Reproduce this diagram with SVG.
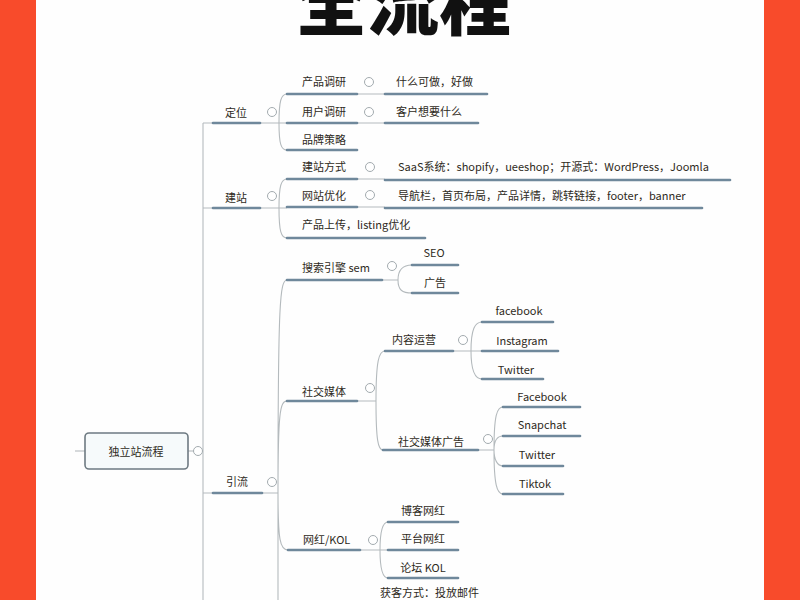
<svg xmlns="http://www.w3.org/2000/svg" width="800" height="600" viewBox="0 0 800 600">
<style>
.t{font-family:"Noto Sans CJK SC","Liberation Sans",sans-serif;font-size:11px;fill:#2e2a22}
.m{text-anchor:middle}
.ul{stroke:#6f889b;stroke-width:2.6;fill:none;stroke-linecap:round}
.cn{stroke:#b4babd;stroke-width:1.1;fill:none}
.cc{fill:#fff;stroke:#a3abaf;stroke-width:1}
</style>
<rect x="0" y="0" width="800" height="600" fill="#fefefe"/>
<rect x="0" y="0" width="36" height="600" fill="#f84b2b"/>
<rect x="764" y="0" width="36" height="600" fill="#f84b2b"/>
<text x="403" y="29" text-anchor="middle" font-family="Noto Sans CJK SC,sans-serif" font-size="72" font-weight="900" fill="#111">全流程</text>

<g id="connectors" class="cn">
<path d="M75 451 H85"/>
<path d="M188 451 H203"/>
<path d="M203 123 V600"/>
<path d="M203 123 H213 M203 208 H213 M203 493 H213"/>
<path d="M260 123 H279 M279 123 C279 101 281 94 287 94 M279 123 H287 M279 123 C279 144 281 150 287 150"/>
<path d="M260 208 H279 M279 208 C279 186 281 179 287 179 M279 208 H287 M279 208 C279 231 281 238 287 238"/>
<path d="M357 94 H385 M357 123 H385 M357 179 H385 M357 207 H385"/>
<path d="M262 493 H278 M278 493 C278 300 280 280 287 280 M278 493 C278 412 280 401 287 401 M278 493 C278 540 280 550 288 550 M278 493 V600"/>
<path d="M382 280 H398 M398 280 C398 270 402 265 412 265 M398 280 C398 290 402 293 412 293"/>
<path d="M357 401 H376 M376 401 C376 360 379 351 385 351 M376 401 C376 440 378 450 383 450"/>
<path d="M453 351 H471 M471 351 C471 329 475 322 482 322 M471 351 H482 M471 351 C471 371 475 379 482 379"/>
<path d="M478 450 H494 M494 450 C494 415 497 407 503 407 M494 450 C494 441 497 436 503 436 M494 450 C494 459 497 466 503 466 M494 450 C494 485 497 494 503 494"/>
<path d="M360 550 H380 M380 550 C380 529 383 522 388 522 M380 550 H388 M380 550 C380 571 383 578 388 578"/>
</g>

<g id="root">
<rect x="85" y="433" width="103" height="36" rx="4" fill="#f6fafb" stroke="#6e7a82" stroke-width="1.6"/>
<text class="t m" x="136" y="456" font-size="13.5">独立站流程</text>
<circle class="cc" cx="198" cy="451" r="4.5"/>
</g>

<g id="dingwei">
<text class="t m" x="236" y="117">定位</text>
<path class="ul" d="M213 123 H260"/>
<circle class="cc" cx="272" cy="112" r="4.5"/>
</g>
<g id="chanpindiaoyan">
<text class="t" x="302" y="86">产品调研</text>
<path class="ul" d="M287 94 H357"/>
<circle class="cc" cx="369" cy="82" r="4.5"/>
</g>
<g id="shenmekezuo">
<text class="t" x="396" y="86">什么可做，好做</text>
<path class="ul" d="M385 94 H487"/>
</g>
<g id="yonghudiaoyan">
<text class="t" x="302" y="116">用户调研</text>
<path class="ul" d="M287 123 H357"/>
<circle class="cc" cx="369" cy="112" r="4.5"/>
</g>
<g id="kehuxiangyao">
<text class="t" x="396" y="116">客户想要什么</text>
<path class="ul" d="M385 123 H478"/>
</g>
<g id="pinpaicelue">
<text class="t" x="302" y="144">品牌策略</text>
<path class="ul" d="M287 150 H357"/>
</g>

<g id="jianzhan">
<text class="t m" x="236" y="202">建站</text>
<path class="ul" d="M213 208 H260"/>
<circle class="cc" cx="272" cy="196" r="4.5"/>
</g>
<g id="jianzhanfangshi">
<text class="t" x="302" y="171">建站方式</text>
<path class="ul" d="M287 179 H357"/>
<circle class="cc" cx="370" cy="167" r="4.5"/>
</g>
<g id="saas">
<text class="t" x="398" y="171">SaaS系统：shopify，ueeshop；开源式：WordPress，Joomla</text>
<path class="ul" d="M385 180 H730"/>
</g>
<g id="wangzhanyouhua">
<text class="t" x="302" y="200">网站优化</text>
<path class="ul" d="M287 207 H357"/>
<circle class="cc" cx="370" cy="195" r="4.5"/>
</g>
<g id="daohanglan">
<text class="t" x="398" y="200">导航栏，首页布局，产品详情，跳转链接，footer，banner</text>
<path class="ul" d="M385 208 H702"/>
</g>
<g id="chanpinshangchuan">
<text class="t" x="302" y="229">产品上传，listing优化</text>
<path class="ul" d="M287 238 H425"/>
</g>

<g id="yinliu">
<text class="t m" x="237" y="486">引流</text>
<path class="ul" d="M213 493 H262"/>
<circle class="cc" cx="272" cy="482" r="4.5"/>
</g>
<g id="sousuoyinqing">
<text class="t" x="302" y="272">搜索引擎 sem</text>
<path class="ul" d="M287 280 H382"/>
<circle class="cc" cx="392" cy="266" r="4.5"/>
</g>
<g id="seo">
<text class="t m" x="434" y="257">SEO</text>
<path class="ul" d="M412 265 H458"/>
</g>
<g id="guanggao">
<text class="t m" x="435" y="287">广告</text>
<path class="ul" d="M412 293 H458"/>
</g>
<g id="shejiaomeiti">
<text class="t" x="302" y="396">社交媒体</text>
<path class="ul" d="M287 401 H357"/>
<circle class="cc" cx="370" cy="388" r="4.5"/>
</g>
<g id="neirongyunying">
<text class="t m" x="414" y="344">内容运营</text>
<path class="ul" d="M385 351 H453"/>
<circle class="cc" cx="463" cy="340" r="4.5"/>
</g>
<g id="facebook1">
<text class="t m" x="519" y="315">facebook</text>
<path class="ul" d="M482 322 H553"/>
</g>
<g id="instagram">
<text class="t m" x="522" y="345">Instagram</text>
<path class="ul" d="M482 351 H558"/>
</g>
<g id="twitter1">
<text class="t m" x="516" y="374">Twitter</text>
<path class="ul" d="M482 379 H543"/>
</g>
<g id="shejiaomeitiguanggao">
<text class="t m" x="431" y="446">社交媒体广告</text>
<path class="ul" d="M383 450 H478"/>
<circle class="cc" cx="488" cy="439" r="4.5"/>
</g>
<g id="facebook2">
<text class="t m" x="542" y="401">Facebook</text>
<path class="ul" d="M503 407 H580"/>
</g>
<g id="snapchat">
<text class="t m" x="542" y="429">Snapchat</text>
<path class="ul" d="M503 436 H580"/>
</g>
<g id="twitter2">
<text class="t m" x="537" y="459">Twitter</text>
<path class="ul" d="M503 466 H563"/>
</g>
<g id="tiktok">
<text class="t m" x="535" y="488">Tiktok</text>
<path class="ul" d="M503 494 H563"/>
</g>
<g id="wanghong">
<text class="t" x="303" y="544">网红/KOL</text>
<path class="ul" d="M288 550 H360"/>
<circle class="cc" cx="373" cy="540" r="4.5"/>
</g>
<g id="bokewanghong">
<text class="t m" x="423" y="515">博客网红</text>
<path class="ul" d="M388 522 H458"/>
</g>
<g id="pingtaiwanghong">
<text class="t m" x="423" y="543">平台网红</text>
<path class="ul" d="M388 550 H458"/>
</g>
<g id="luntankol">
<text class="t m" x="423" y="572">论坛 KOL</text>
<path class="ul" d="M388 578 H458"/>
</g>
<g id="bottomnode">
<text class="t" x="380" y="597">获客方式：投放邮件</text>
</g>
</svg>
